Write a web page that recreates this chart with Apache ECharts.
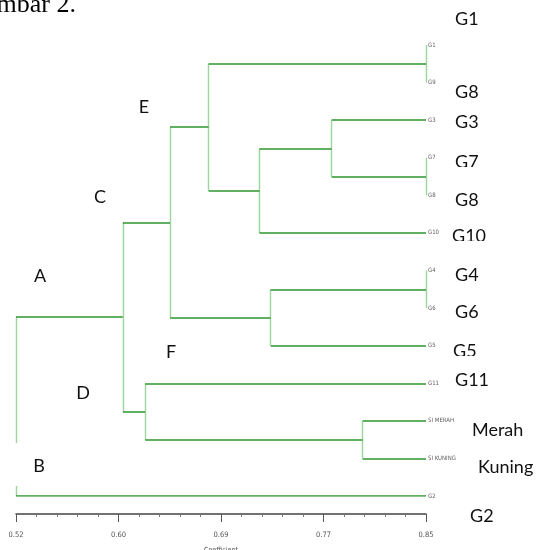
<!DOCTYPE html>
<html><head><meta charset="utf-8">
<script src="https://cdn.jsdelivr.net/npm/echarts@6/dist/echarts.min.js"></script>
<style>html,body{margin:0;padding:0;background:#fff}#c{width:537px;height:550px}</style>
</head><body><div id="c"></div>
<script>
// ---- data ----
const leaves = ['G1','G9','G3','G7','G8','G10','G4','G6','G5','G11','SI MERAH','SI KUNING','G2'];
const leafCoef = 0.85;
const mergeName = ['n1','n2','n3','n4','n5','n6','n7','n8','n9','n10','n11','n12'];
const mergeA    = ['G1','G7','G4','G3','n4','n1','n3','n6','SI MERAH','G11','n8','n11'];
const mergeB    = ['G9','G8','G6','n2','G10','n5','G5','n7','SI KUNING','n9','n10','G2'];
const mergeCoef = [0.85,0.85,0.85,0.774,0.716,0.675,0.725,0.644,0.799,0.624,0.606,0.52];
const tickValues = [0.52,0.6025,0.685,0.7675,0.85];
const tickLabels = ['0.52','0.60','0.69','0.77','0.85'];
const sideLabels = ['G1','G8','G3','G7','G8','G10','G4','G6','G5','G11','Merah','Kuning','G2'];
const groupLabels = ['A','B','C','D','E','F'];

// ---- build dendrogram segments ----
const pos = {};
leaves.forEach((n,i)=>{ pos[n] = {x: leafCoef, y: i}; });
const horiz = [], vert = [];
mergeName.forEach((name,k)=>{
  const a = pos[mergeA[k]], b = pos[mergeB[k]], h = mergeCoef[k];
  vert.push({coords: [[h,a.y],[h,b.y]]});
  if (a.x !== h) horiz.push({coords: [[h,a.y],[a.x,a.y]]});
  if (b.x !== h) horiz.push({coords: [[h,b.y],[b.x,b.y]]});
  pos[name] = {x: h, y: (a.y+b.y)/2};
});
const minorValues = [];
for (let i=0;i<tickValues.length-1;i++){
  for (let j=1;j<5;j++) minorValues.push(tickValues[i] + j*(tickValues[i+1]-tickValues[i])/5);
}

// ---- annotation layout ----
const sideLayout = [[455,19],[455,92],[455,122],[455,162],[455,200],[452,236],[455,275],[455,312],[453,351],[455,380],[472,430],[478,467],[470,516]];
const clipRects = [[445,167,90,20],[445,241,90,22],[445,356,90,15],[445,386,90,28]];
const groupLayout = [[40,276],[39,466],[100,197],[83,393],[144,107],[171,352]];

const elements = [];
elements.push({type:'text', z:100, style:{text:'Gambar 2.', x:76, y:18, textAlign:'right', textVerticalAlign:'bottom', font:'26px "Liberation Serif"', fill:'#000'}});
elements.push({type:'rect', z:100, shape:{x:10,y:443,width:50,height:43}, style:{fill:'#fff'}});
groupLabels.forEach((t,i)=>{
  elements.push({type:'text', z:101, style:{text:t, x:groupLayout[i][0], y:groupLayout[i][1], textAlign:'center', textVerticalAlign:'middle', font:'18px Lato', fill:'#111'}});
});
sideLabels.forEach((t,i)=>{
  elements.push({type:'text', z:101+i*2, style:{text:t, x:sideLayout[i][0], y:sideLayout[i][1], textAlign:'left', textVerticalAlign:'middle', font:'18px Lato', fill:'#111'}});
});
const clipZ = [108, 112, 118, 120];
clipRects.forEach((r,i)=>{
  elements.push({type:'rect', z:clipZ[i], shape:{x:r[0],y:r[1],width:r[2],height:r[3]}, style:{fill:'#fff'}});
});

const gridBox = {left:16, right:111, top:45, bottom:54, containLabel:false, outerBoundsMode:'none'};
const chart = echarts.init(document.getElementById('c'), null, {renderer:'canvas'});
chart.setOption({
  animation:false,
  backgroundColor:'#fff',
  grid:[Object.assign({}, gridBox), Object.assign({}, gridBox)],
  xAxis:[{
    gridIndex:0, type:'value', min:0.52, max:0.85, position:'bottom', offset:18,
    splitLine:{show:false},
    axisLine:{show:true, onZero:false, lineStyle:{color:'#444', width:1.5}},
    axisTick:{show:true, length:8, customValues:tickValues, lineStyle:{color:'#555', width:1}},
    axisLabel:{show:true, customValues:tickValues, margin:17, fontSize:7.5, color:'#555', fontFamily:'DejaVu Sans Condensed',
      formatter:(v)=>{ let k=0,d=1e9; tickValues.forEach((t,i)=>{ if(Math.abs(t-v)<d){d=Math.abs(t-v);k=i;} }); return tickLabels[k]; }},
    name:'Coefficient', nameLocation:'middle', nameGap:33,
    nameTextStyle:{fontSize:7, color:'#555', fontFamily:'DejaVu Sans Condensed'}
  },{
    gridIndex:1, type:'value', min:0.52, max:0.85, position:'bottom', offset:18,
    splitLine:{show:false},
    axisLine:{show:false, onZero:false},
    axisTick:{show:true, length:3, customValues:minorValues, lineStyle:{color:'#777', width:1}},
    axisLabel:{show:false}
  }],
  yAxis:[
    {gridIndex:0, type:'value', min:0, max:12, inverse:true, show:false, splitLine:{show:false}},
    {gridIndex:1, type:'value', min:0, max:12, inverse:true, show:false, splitLine:{show:false}}
  ],
  series:[{
    type:'lines', coordinateSystem:'cartesian2d', xAxisIndex:0, yAxisIndex:0, silent:true,
    lineStyle:{color:'#9fd49f', width:1.4, opacity:1}, data:vert, z:2
  },{
    type:'lines', coordinateSystem:'cartesian2d', xAxisIndex:0, yAxisIndex:0, silent:true,
    lineStyle:{color:'#2e962e', width:1.5, opacity:1}, data:horiz, z:3
  },{
    type:'scatter', xAxisIndex:0, yAxisIndex:0, silent:true, symbolSize:0,
    data: leaves.map((n,i)=>({value:[leafCoef,i], name:n})),
    label:{show:true, position:'right', distance:2, formatter:(p)=>p.name, fontSize:6, color:'#333', fontFamily:'DejaVu Sans Condensed'},
    z:4
  }],
  graphic:{elements:elements}
});
</script></body></html>
